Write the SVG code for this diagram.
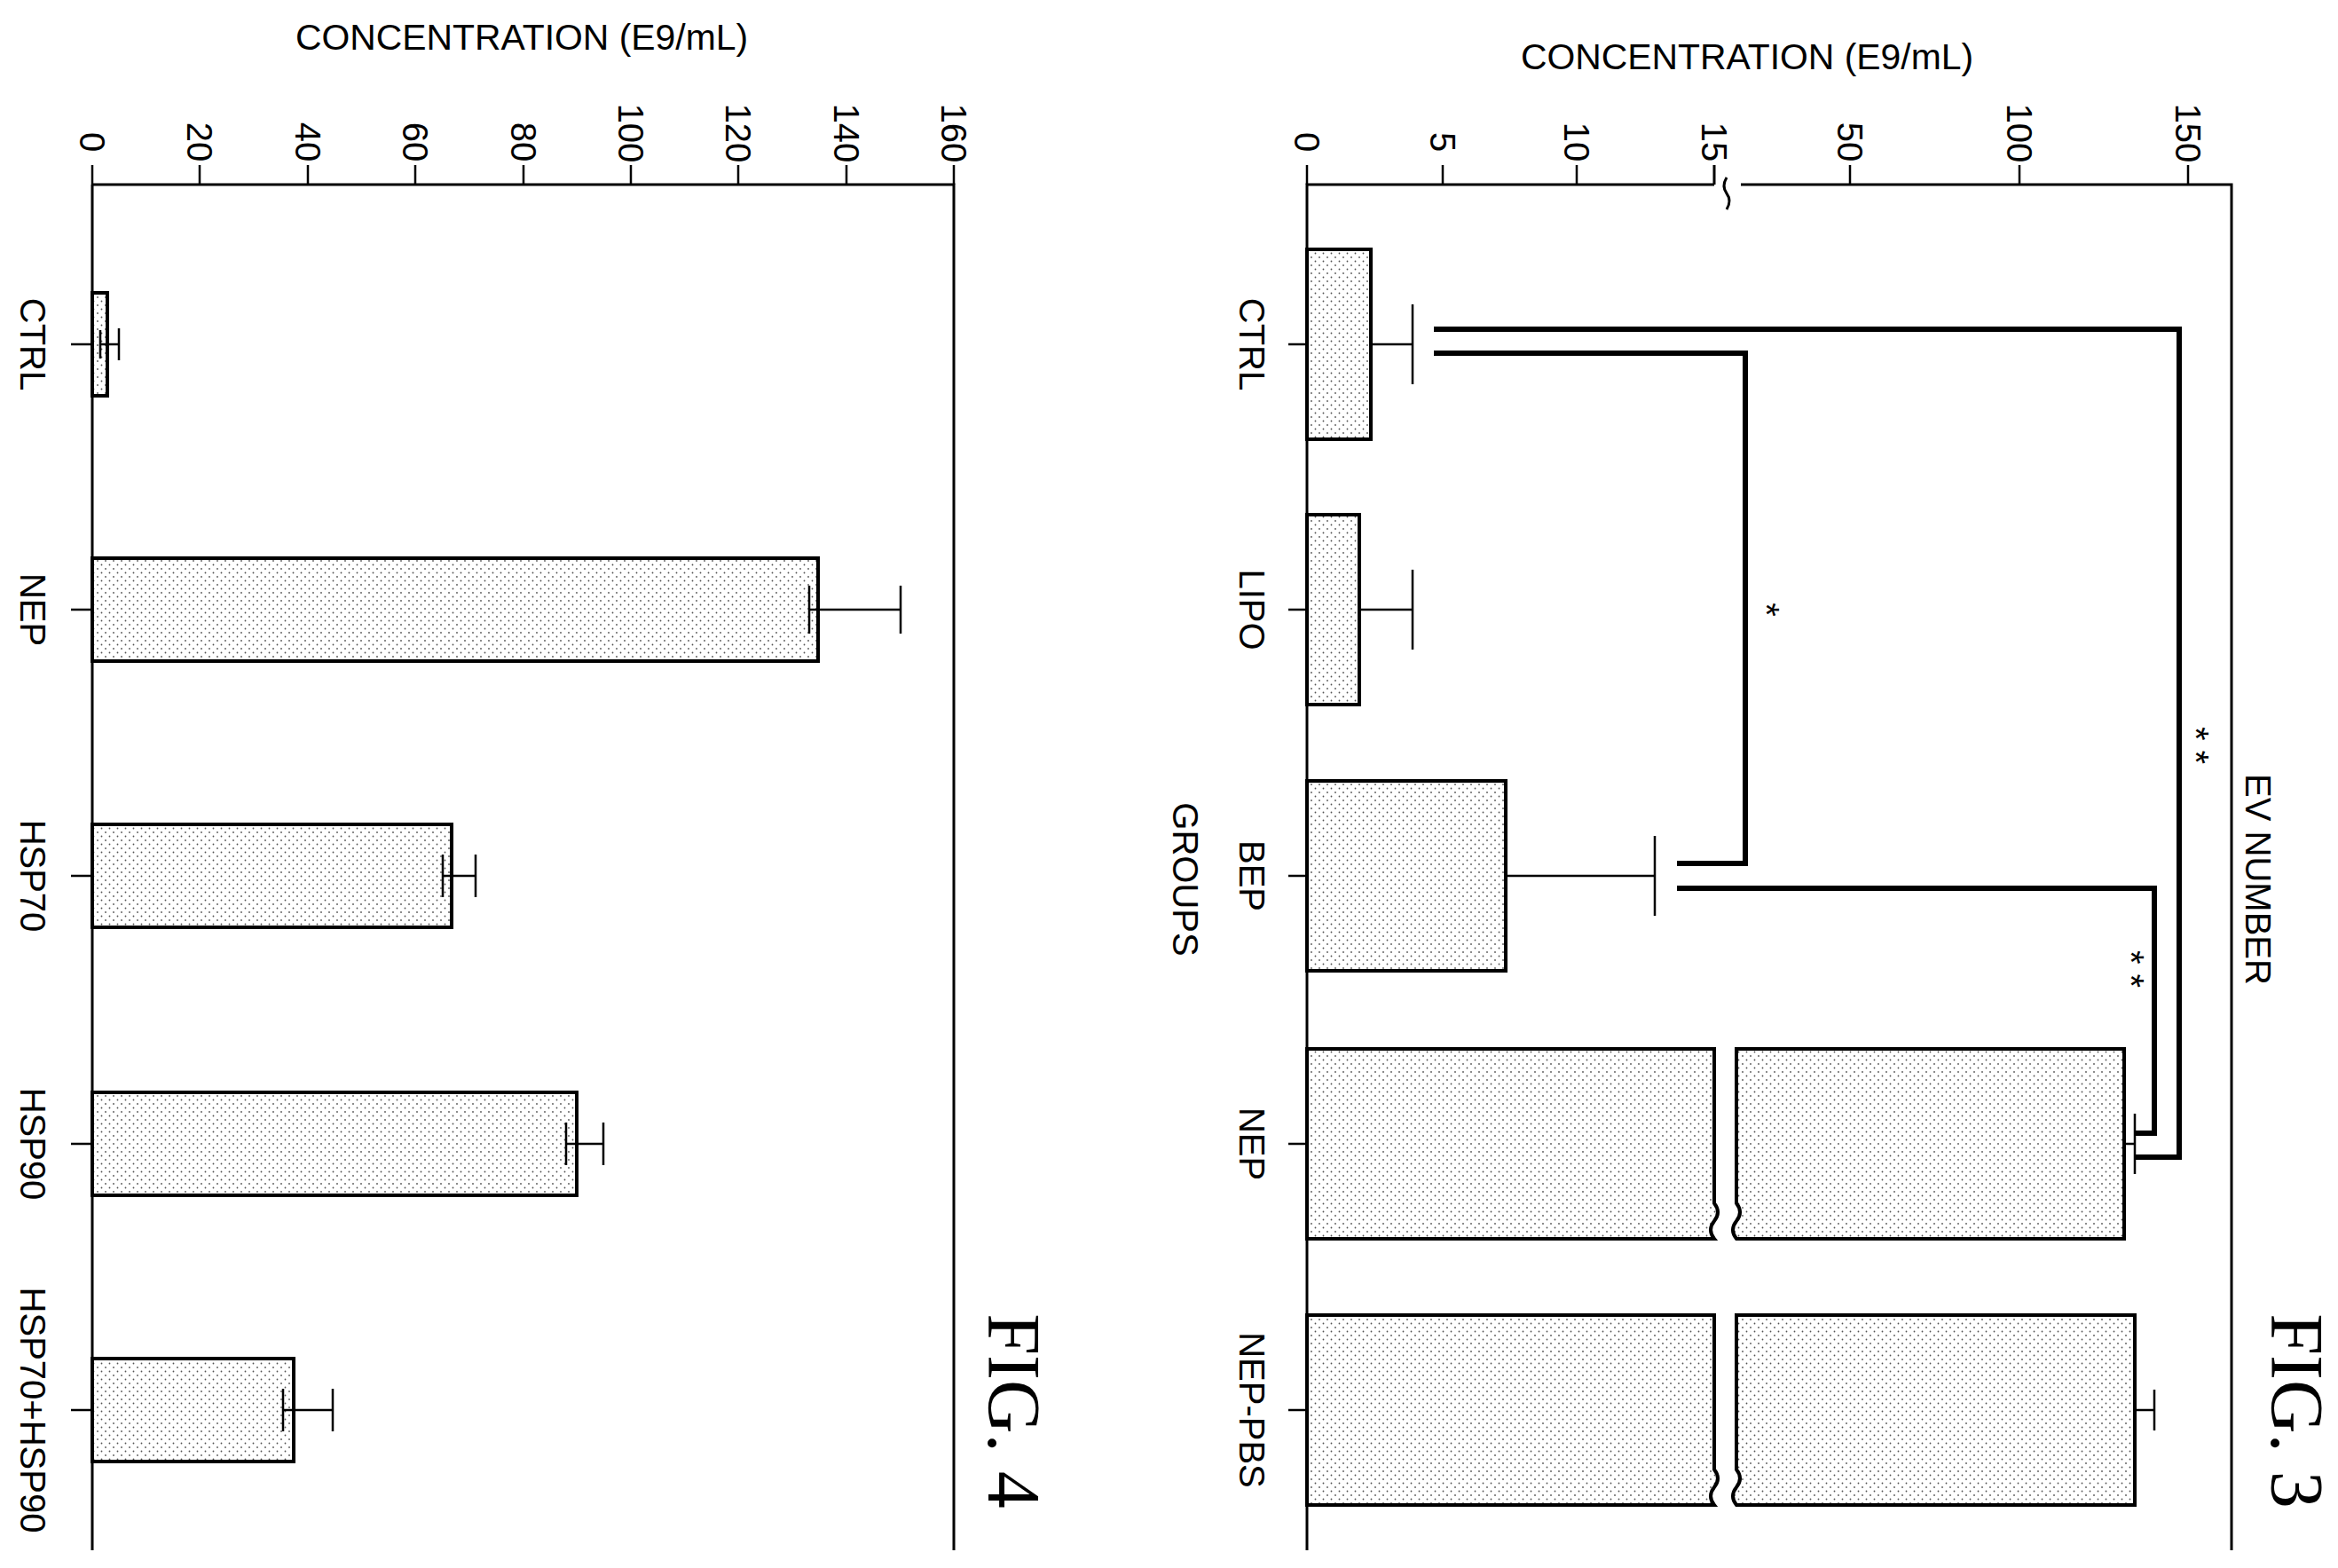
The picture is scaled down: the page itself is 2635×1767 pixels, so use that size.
<svg xmlns="http://www.w3.org/2000/svg" width="2635" height="1767" viewBox="0 0 2635 1767">
<defs>
<pattern id="dots" width="9" height="9" patternUnits="userSpaceOnUse"><rect width="9" height="9" fill="#fff"/><circle cx="2" cy="2" r="0.9" fill="#555"/><circle cx="6.5" cy="6.5" r="0.9" fill="#555"/></pattern>
<style>
text{font-family:"Liberation Sans",Arial,sans-serif;font-size:40px;fill:#000}
.r{text-anchor:middle;dominant-baseline:central}
.fig{font-family:"Liberation Serif","Times New Roman",serif;font-size:84px}
.ax{fill:none;stroke:#000;stroke-width:3}
.bar{fill:url(#dots);stroke:#000;stroke-width:4}
.eb{fill:none;stroke:#000;stroke-width:2.5}
.br{fill:none;stroke:#000;stroke-width:6}
</style>
</defs>
<rect width="2635" height="1767" fill="#fff"/>
<!-- FIG 4 -->
<g id="fig4">
<text x="588" y="42" class="r" textLength="510" lengthAdjust="spacingAndGlyphs">CONCENTRATION (E9/mL)</text>
<path class="ax" d="M104,208 H1075 V1747 M104,1747 V208"/>
<path class="eb" d="M104,208V186M225,208V186M347,208V186M468,208V186M590,208V186M711,208V186M832,208V186M954,208V186M1075,208V186"/>
<g class="tl">
<text class="r" transform="rotate(90,104,160)" x="104" y="160">0</text>
<text class="r" transform="rotate(90,225,160)" x="225" y="160">20</text>
<text class="r" transform="rotate(90,347,160)" x="347" y="160">40</text>
<text class="r" transform="rotate(90,468,160)" x="468" y="160">60</text>
<text class="r" transform="rotate(90,590,160)" x="590" y="160">80</text>
<text class="r" transform="rotate(90,711,150)" x="711" y="150">100</text>
<text class="r" transform="rotate(90,832,150)" x="832" y="150">120</text>
<text class="r" transform="rotate(90,954,150)" x="954" y="150">140</text>
<text class="r" transform="rotate(90,1075,150)" x="1075" y="150">160</text>
</g>
<path class="eb" d="M80,388H104M80,687H104M80,987H104M80,1289H104M80,1589H104"/>
<g id="f4-ctrl"><rect class="bar" x="104" y="330" width="17" height="116"/><path class="eb" d="M113,388H134M113,372V404M134,370V406"/><text class="r" transform="rotate(90,37,388)" x="37" y="388">CTRL</text></g>
<g id="f4-nep"><rect class="bar" x="104" y="629" width="818" height="116"/><path class="eb" d="M912,687H1015M912,660V714M1015,660V714"/><text class="r" transform="rotate(90,37,687)" x="37" y="687">NEP</text></g>
<g id="f4-hsp70"><rect class="bar" x="104" y="929" width="405" height="116"/><path class="eb" d="M499,987H536M499,963V1011M536,963V1011"/><text class="r" transform="rotate(90,37,987)" x="37" y="987">HSP70</text></g>
<g id="f4-hsp90"><rect class="bar" x="104" y="1231" width="546" height="116"/><path class="eb" d="M638,1289H680M638,1265V1313M680,1265V1313"/><text class="r" transform="rotate(90,37,1289)" x="37" y="1289">HSP90</text></g>
<g id="f4-both"><rect class="bar" x="104" y="1531" width="227" height="116"/><path class="eb" d="M319,1589H375M319,1565V1613M375,1565V1613"/><text class="r" transform="rotate(90,37,1589)" x="37" y="1589">HSP70+HSP90</text></g>
<text class="fig r" transform="rotate(90,1142,1590)" x="1142" y="1590">FIG. 4</text>
</g>
<!-- FIG 3 -->
<g id="fig3">
<text x="1969" y="64" class="r" textLength="510" lengthAdjust="spacingAndGlyphs">CONCENTRATION (E9/mL)</text>
<path class="ax" d="M1473,1747V208H1932M1962,208H2515V1747"/>
<path class="ax" d="M1932,208 V186 M1946,200 q-6,10 0,18 M1946,218 q6,8 0,18"/>
<path class="eb" d="M1473,208V186M1626,208V186M1777,208V186M2085,208V186M2276,208V186M2466,208V186"/>
<text class="r" transform="rotate(90,1473,160)" x="1473" y="160">0</text>
<text class="r" transform="rotate(90,1626,160)" x="1626" y="160">5</text>
<text class="r" transform="rotate(90,1777,160)" x="1777" y="160">10</text>
<text class="r" transform="rotate(90,1932,160)" x="1932" y="160">15</text>
<text class="r" transform="rotate(90,2085,160)" x="2085" y="160">50</text>
<text class="r" transform="rotate(90,2276,150)" x="2276" y="150">100</text>
<text class="r" transform="rotate(90,2466,150)" x="2466" y="150">150</text>
<path class="eb" d="M1452,388H1473M1452,687H1473M1452,987H1473M1452,1289H1473M1452,1589H1473"/>
<g id="f3-ctrl"><rect class="bar" x="1473" y="281" width="72" height="214"/><path class="eb" d="M1545,388H1592M1592,343V433"/><text class="r" transform="rotate(90,1411,388)" x="1411" y="388">CTRL</text></g>
<g id="f3-lipo"><rect class="bar" x="1473" y="580" width="59" height="214"/><path class="eb" d="M1532,687H1592M1592,642V732"/><text class="r" transform="rotate(90,1411,687)" x="1411" y="687">LIPO</text></g>
<g id="f3-bep"><rect class="bar" x="1473" y="880" width="224" height="214"/><path class="eb" d="M1697,987H1865M1865,942V1032"/><text class="r" transform="rotate(90,1411,987)" x="1411" y="987">BEP</text></g>
<g id="f3-nep"><path class="bar" d="M1932,1182H1473V1396H1932q-8,-10 0,-20q8,-10 0,-20V1182z"/><path class="bar" d="M1957,1182H2394V1396H1957q-8,-10 0,-20q8,-10 0,-20V1182z"/><path class="eb" d="M2394,1289H2406M2406,1255V1323M2394,1270V1308"/><text class="r" transform="rotate(90,1411,1289)" x="1411" y="1289">NEP</text></g>
<g id="f3-neppbs"><path class="bar" d="M1932,1482H1473V1696H1932q-8,-10 0,-20q8,-10 0,-20V1482z"/><path class="bar" d="M1957,1482H2406V1696H1957q-8,-10 0,-20q8,-10 0,-20V1482z"/><path class="eb" d="M2406,1589H2428M2428,1566V1612"/><text class="r" transform="rotate(90,1411,1589)" x="1411" y="1589">NEP-PBS</text></g>
<text class="r" transform="rotate(90,1336,991)" x="1336" y="991">GROUPS</text>
<text class="r" transform="rotate(90,2545,991)" x="2545" y="991">EV NUMBER</text>
<text class="fig r" transform="rotate(90,2588,1590)" x="2588" y="1590">FIG. 3</text>
</g>
<g id="connectors">
<path class="br" d="M1616,371H2456V1304H2406"/>
<path class="br" d="M1616,398H1967V973H1890"/>
<path class="br" d="M1890,1001H2428V1277H2406"/>
<text class="r" transform="rotate(90,1991,687)" x="1991" y="687">*</text>
<text class="r" transform="rotate(90,2475,840)" x="2475" y="840">* *</text>
<text class="r" transform="rotate(90,2402,1092)" x="2402" y="1092">* *</text>
</g>
</svg>
